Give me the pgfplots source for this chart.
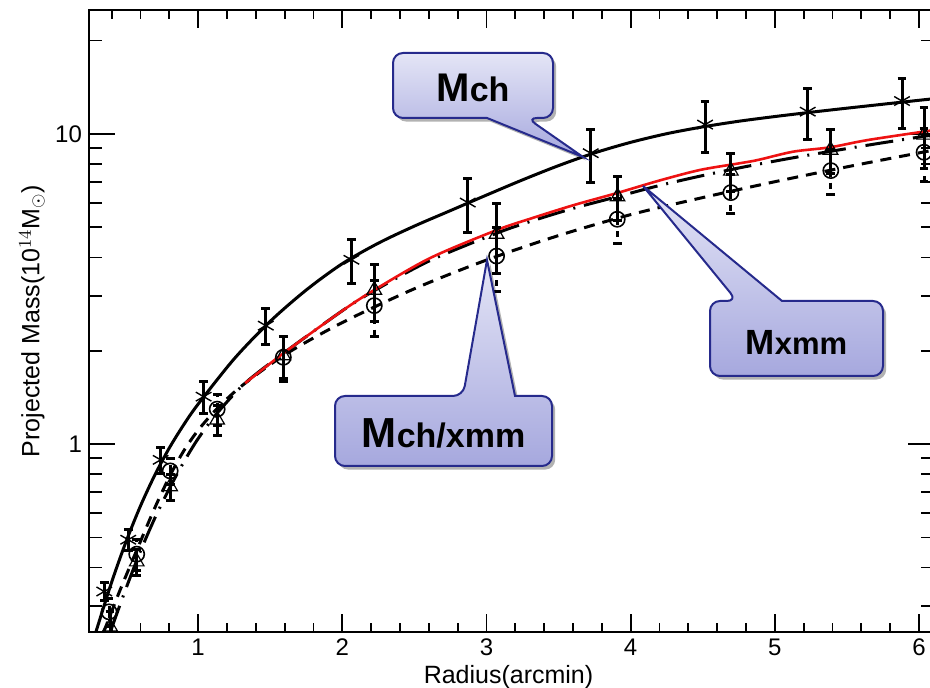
\documentclass[border=0pt]{standalone}
\usepackage{fontspec}
\setmainfont{Liberation Sans}
\usepackage{pgfplots}
\usepackage{pgfplotstable}
\pgfplotsset{compat=1.18}
\usetikzlibrary{shadows}

\definecolor{calloutTop}{RGB}{228,229,246}
\definecolor{calloutBot}{RGB}{166,168,222}
\definecolor{calloutEdge}{RGB}{38,42,140}
\definecolor{fitred}{RGB}{238,18,18}

% Chandra mass profile: radius, mass, error
\pgfplotstableread{
x      y      e
0.349  0.335  0.022
0.515  0.492  0.037
0.740  0.890  0.085
1.038  1.423  0.165
1.469  2.41   0.32
2.063  3.93   0.64
2.870  6.01   1.18
3.723  8.67   1.68
4.516  10.72  2.0
5.228  11.80  2.2
5.882  12.77  2.35
}\mch

% combined Chandra/XMM profile
\pgfplotstableread{
x      y      e
0.382  0.288  0.03
0.574  0.442  0.05
0.806  0.820  0.08
1.132  1.297  0.15
1.591  1.906  0.31
2.222  2.797  0.58
3.070  4.04   0.94
3.907  5.31   0.87
4.695  6.47   0.92
5.388  7.62   1.26
6.035  8.73   1.7
}\mchx

% XMM profile
\pgfplotstableread{
x      y      e
0.389  0.258  0.03
0.574  0.418  0.04
0.806  0.730  0.07
1.132  1.198  0.13
1.591  1.93   0.30
2.222  3.14   0.65
3.070  4.76   1.2
3.909  6.28   1.0
4.695  7.60   1.07
5.386  8.88   1.42
6.035  9.93   2.2
}\mxmm

% model curves
\pgfplotstableread{
x      y
0.27   0.230
0.30   0.256
0.40   0.359
0.50   0.485
0.60   0.632
0.70   0.796
0.80   0.972
0.90   1.155
1.00   1.346
1.25   1.884
1.50   2.489
1.75   3.141
2.00   3.819
2.25   4.446
2.50   5.047
2.75   5.662
3.00   6.353
3.25   7.112
3.50   7.907
3.75   8.690
4.00   9.397
4.25   10.02
4.50   10.54
4.75   10.99
5.00   11.38
5.25   11.75
5.50   12.11
5.75   12.47
6.00   12.84
6.11   13.00
}\fitch

\pgfplotstableread{
x      y
0.345  0.2477
0.45   0.331
0.574  0.455
0.70   0.624
0.806  0.794
0.90   0.951
1.00   1.109
1.132  1.303
1.30   1.538
1.60   1.941
2.00   2.466
2.50   3.170
3.00   3.923
3.50   4.704
4.00   5.495
4.50   6.237
5.00   7.015
5.50   7.834
6.00   8.690
6.11   8.892
}\fitchx

\pgfplotstableread{
x      y
0.39   0.2477
0.50   0.343
0.60   0.452
0.70   0.578
0.80   0.719
0.90   0.875
1.00   1.042
1.132  1.259
1.326  1.573
1.60   1.977
2.00   2.692
2.222  3.126
2.609  3.908
3.07   4.786
3.305  5.224
3.60   5.754
3.909  6.281
4.20   6.823
4.50   7.345
4.80   7.852
5.10   8.337
5.386  8.790
5.70   9.290
6.11   9.954
}\fitxmm

\pgfplotstableread{
x      y
1.326  1.573
1.60   1.977
2.00   2.692
2.222  3.141
2.609  3.981
3.07   4.898
3.305  5.333
3.60   5.888
3.909  6.457
4.20   7.079
4.481  7.656
4.758  8.048
4.884  8.247
5.128  8.770
5.383  9.057
5.648  9.565
6.11   10.30
}\fitred

\tikzset{
  callout/.style={draw=calloutEdge, line width=1pt, top color=calloutTop,
    bottom color=calloutBot,
    drop shadow={shadow xshift=1.6pt, shadow yshift=-1.8pt, opacity=0.3, fill=black}},
}

\begin{document}
\begin{tikzpicture}
\begin{axis}[
  scale only axis, width=422.5pt, height=311pt,
  ymode=log,
  xmin=0.243, xmax=6.104, ymin=0.248, ymax=25.1,
  xtick={1,2,3,4,5,6}, xticklabels={1,2,3,4,5,6},
  minor xtick={0.4,0.6,0.8,1.2,1.4,1.6,1.8,2.2,2.4,2.6,2.8,3.2,3.4,3.6,3.8,4.2,4.4,4.6,4.8,5.2,5.4,5.6,5.8},
  ytick={1,10}, yticklabels={1,10},
  minor ytick={0.3,0.4,0.5,0.6,0.7,0.8,0.9,2,3,4,5,6,7,8,9,20},
  tick align=inside,
  major tick length=12.8pt, minor tick length=6.5pt,
  xtick style={/pgfplots/major tick length=9pt, /pgfplots/minor tick length=4.5pt},
  every tick/.style={black, line width=0.9pt},
  axis line style={line width=1pt},
  tick label style={font=\fontsize{12}{12}\selectfont},
  xlabel={Radius(arcmin)},
  ylabel={Projected Mass(10$^{14}$M$_{\odot}$)},
  label style={font=\fontsize{12.5}{12.5}\selectfont},
  xlabel style={at={(axis description cs:0.5,0)}, anchor=center, yshift=-22.5pt, xshift=-1.5pt},
  ylabel style={at={(axis description cs:-0.0675,0.5)}, anchor=center, rotate=0},
]
% model curves
\addplot[black, line width=1.5pt, dash pattern=on 14pt off 4.5pt on 1pt off 4.5pt, smooth] table {\fitxmm};
\addplot[black, line width=1.5pt, dash pattern=on 5.5pt off 4pt, smooth] table {\fitchx};
\addplot[black, line width=1.5pt, smooth] table {\fitch};
\addplot[fitred, line width=1.3pt, smooth] table {\fitred};

% measured profiles
\addplot[black, only marks, mark=asterisk, mark size=4.5pt, mark options={line width=0.7pt},
  error bars/.cd, y dir=both, y explicit,
  error bar style={line width=1.5pt, solid},
  error mark options={rotate=90, mark size=2.2pt, line width=1.5pt}]
  table[x=x, y=y, y error=e] {\mch};
\addplot[black, only marks, mark=triangle, mark size=4.2pt, mark options={line width=0.6pt},
  error bars/.cd, y dir=both, y explicit,
  error bar style={line width=1.5pt, solid},
  error mark options={rotate=90, mark size=2.2pt, line width=1.5pt}]
  table[x=x, y=y, y error=e] {\mxmm};
\addplot[black, only marks, mark=o, mark size=3.8pt, mark options={line width=0.8pt},
  error bars/.cd, y dir=both, y explicit,
  error bar style={line width=1.5pt, dash pattern=on 3pt off 3pt},
  error mark options={rotate=90, mark size=2.2pt, line width=1.5pt, solid}]
  table[x=x, y=y, y error=e] {\mchx};
\end{axis}

% callouts, laid out on a 0.5pt grid measured from the top left corner
\begin{scope}[xshift=-44.5pt, yshift=316pt, x=0.5pt, y=-0.5pt]
  \path[callout, rounded corners=5pt]
    (393,53) -- (553,53) -- (553,118) -- (527,118) [sharp corners] -- (583,157)
    -- (487,118) [rounded corners=5pt] -- (393,118) -- cycle;
  \node[anchor=base, inner sep=0pt] at (473,102)
    {\bfseries\fontsize{20}{20}\selectfont M\fontsize{17}{17}\selectfont ch};

  \path[callout, rounded corners=5pt]
    (335,396) -- (463,396) [sharp corners] -- (487,260) -- (515,396)
    [rounded corners=5pt] -- (552,396) -- (552,466) -- (335,466) -- cycle;
  \node[anchor=base, inner sep=0pt] at (443.5,448)
    {\bfseries\fontsize{21}{21}\selectfont M\fontsize{17}{17}\selectfont ch/xmm};

  \path[callout, rounded corners=5pt]
    (710,301) -- (737,301) [sharp corners] -- (643,186) -- (782,301)
    [rounded corners=5pt] -- (883,301) -- (883,376) -- (710,376) -- cycle;
  \node[anchor=base, inner sep=0pt] at (796.5,355)
    {\bfseries\fontsize{17.5}{17.5}\selectfont M\fontsize{15.5}{15.5}\selectfont xmm};

  \pgfresetboundingbox
  \path (0,0) rectangle (930,688);
\end{scope}
\end{tikzpicture}
\end{document}
